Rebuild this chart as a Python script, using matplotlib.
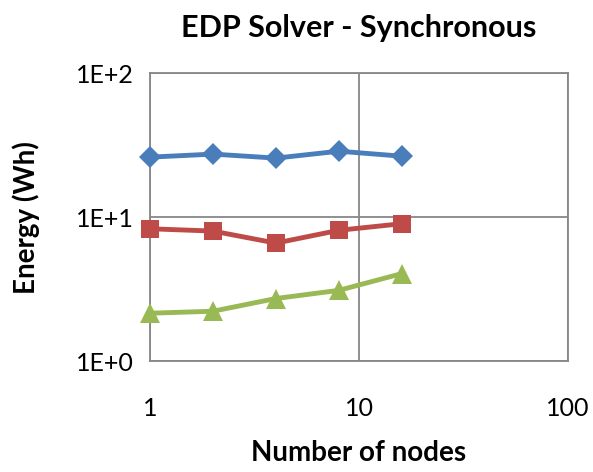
import matplotlib
matplotlib.use("Agg")
import matplotlib.pyplot as plt
from matplotlib.ticker import FixedLocator, FixedFormatter, NullLocator

plt.rcParams['font.family'] = ['Lato', 'DejaVu Sans']

nodes = [1, 2, 4, 8, 16]
series_blue = [26.1, 27.4, 25.7, 28.7, 26.5]
series_red = [8.3, 8.0, 6.6, 8.1, 9.0]
series_green = [2.15, 2.22, 2.72, 3.1, 4.05]

x_ticks = [1, 10, 100]
x_tick_labels = ["1", "10", "100"]
y_ticks = [1, 10, 100]
y_tick_labels = ["1E+0", "1E+1", "1E+2"]

fig = plt.figure(figsize=(5.93, 4.72), dpi=100)
ax = fig.add_axes([0.253, 0.235, 0.705, 0.61])

grid_c = "#878787"
ax.plot(nodes, series_blue, color="#4A7EBB", lw=3.5, marker="D", ms=11, mew=0, zorder=3)
ax.plot(nodes, series_red, color="#BE4B48", lw=3.5, marker="s", ms=13.5, mew=0, zorder=3)
ax.plot(nodes, series_green, color="#98B954", lw=3.5, marker="^", ms=14.5, mew=0, zorder=3)

ax.set_xscale("log")
ax.set_yscale("log")
ax.set_xlim(1, 100)
ax.set_ylim(1, 100)

ax.xaxis.set_major_locator(FixedLocator(x_ticks))
ax.xaxis.set_major_formatter(FixedFormatter(x_tick_labels))
ax.yaxis.set_major_locator(FixedLocator(y_ticks))
ax.yaxis.set_major_formatter(FixedFormatter(y_tick_labels))
ax.xaxis.set_minor_locator(NullLocator())
ax.yaxis.set_minor_locator(NullLocator())

ax.grid(True, which="major", color=grid_c, lw=1.3)
for s in ax.spines.values():
    s.set_color(grid_c)
    s.set_linewidth(1.3)
ax.tick_params(length=0, labelsize=18, colors="black")
ax.tick_params(axis="x", pad=26)
ax.tick_params(axis="y", pad=12)
for line in ax.lines:
    line.set_clip_on(False)

ax.set_title("EDP Solver - Synchronous", fontsize=22, fontweight="bold", pad=26)
ax.set_xlabel("Number of nodes", fontsize=20, fontweight="bold")
ax.set_ylabel("Energy (Wh)", fontsize=20, fontweight="bold")
ax.xaxis.set_label_coords(0.5, -0.274)
ax.yaxis.set_label_coords(-0.262, 0.5)

fig.savefig("out.png", dpi=100)
